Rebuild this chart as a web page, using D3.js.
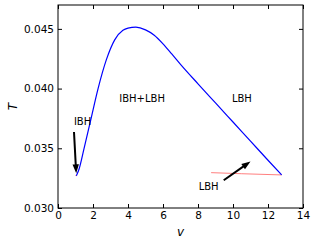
<!DOCTYPE html>
<html><head><meta charset="utf-8">
<script src="https://cdn.jsdelivr.net/npm/d3@7"></script>
<style>body{margin:0;background:#fff}svg{display:block}text{font-family:"DejaVu Sans",sans-serif}</style>
</head><body><svg id="c" width="316" height="247"></svg>
<script>
const blueV = [1.05, 1.2, 1.49, 1.87, 2.29, 2.76, 3.24, 3.71, 4.0, 4.45, 5.0, 5.5, 6.0, 6.5, 7.0, 8.0, 9.0, 10.0, 11.0, 12.0, 12.78];
const blueT = [0.03271, 0.03325, 0.0350, 0.03737, 0.0400, 0.0424, 0.04408, 0.04488, 0.04506, 0.04514, 0.04492, 0.04447, 0.04375, 0.04290, 0.04203, 0.04040, 0.03880, 0.03720, 0.03560, 0.03400, 0.03277];
const redV = [8.75, 10.5, 12.78];
const redT = [0.03296, 0.03287, 0.03277];
const redV2 = [1.0, 1.08];
const redT2 = [0.03272, 0.03271];
const xTicks = [0, 2, 4, 6, 8, 10, 12, 14];
const yTicks = [0.030, 0.035, 0.040, 0.045];
const labels = [
  {text: "IBH", v: 0.91, T: 0.03696},
  {text: "IBH+LBH", v: 3.5, T: 0.03888},
  {text: "LBH", v: 9.94, T: 0.03888},
  {text: "LBH", v: 8.04, T: 0.0315}
];
const arrows = [
  {v0: 0.914, T0: 0.03637, v1: 1.04, T1: 0.0329},
  {v0: 9.47, T0: 0.03232, v1: 11.0, T1: 0.0339}
];

const svg = d3.select("#c");
const L = 58, R = 303, Tp = 5, B = 208;
const x = d3.scaleLinear().domain([0, 14]).range([L, R]);
const y = d3.scaleLinear().domain([0.030, 0.047]).range([B, Tp]);

const line = d3.line().x(d => x(d[0])).y(d => y(d[1])).curve(d3.curveMonotoneX);
const straight = d3.line().x(d => x(d[0])).y(d => y(d[1]));
svg.append("path").datum(redV.map((v, i) => [v, redT[i]])).attr("d", straight)
  .attr("fill", "none").attr("stroke", "#ff7070").attr("stroke-width", 0.9);
svg.append("path").datum(redV2.map((v, i) => [v, redT2[i]])).attr("d", straight)
  .attr("fill", "none").attr("stroke", "#ff7070").attr("stroke-width", 0.9);
svg.append("path").datum(blueV.map((v, i) => [v, blueT[i]])).attr("d", line)
  .attr("fill", "none").attr("stroke", "#0000ff").attr("stroke-width", 1.2);

// axes with inward ticks
const gx = svg.append("g").attr("transform", `translate(0,${B})`)
  .call(d3.axisBottom(x).tickValues(xTicks).tickFormat(d3.format("d")).tickSizeInner(-4).tickSizeOuter(0).tickPadding(4));
const gxt = svg.append("g").attr("transform", `translate(0,${Tp})`)
  .call(d3.axisTop(x).tickValues(xTicks).tickFormat("").tickSizeInner(-4).tickSizeOuter(0));
const gy = svg.append("g").attr("transform", `translate(${L},0)`)
  .call(d3.axisLeft(y).tickValues(yTicks).tickFormat(d3.format(".3f")).tickSizeInner(-4).tickSizeOuter(0).tickPadding(4));
const gyr = svg.append("g").attr("transform", `translate(${R},0)`)
  .call(d3.axisRight(y).tickValues(yTicks).tickFormat("").tickSizeInner(-4).tickSizeOuter(0));
[gx, gxt, gy, gyr].forEach(g => { g.select(".domain").remove(); g.selectAll("text").attr("font-size", 10.5).attr("fill", "#000").attr("font-family", "DejaVu Sans"); g.selectAll("line").attr("stroke", "#000"); });
gx.selectAll("text").attr("dy", "0.71em");

svg.append("rect").attr("x", L).attr("y", Tp).attr("width", R - L).attr("height", B - Tp)
  .attr("fill", "none").attr("stroke", "#000").attr("stroke-width", 1);

// text labels
labels.forEach(l => svg.append("text").attr("x", x(l.v)).attr("y", y(l.T)).attr("font-size", 10).attr("fill", "#000").text(l.text));

// arrows
arrows.forEach(a => {
  const x0 = x(a.v0), y0 = y(a.T0), x1 = x(a.v1), y1 = y(a.T1);
  const dx = x1 - x0, dy = y1 - y0, len = Math.hypot(dx, dy);
  const ux = dx / len, uy = dy / len, px = -uy, py = ux;
  const hl = 9, hw = 3.2, sw = 1;
  const bx = x1 - ux * hl, by = y1 - uy * hl;
  const pts = [
    [x0 + px * sw, y0 + py * sw], [bx + px * sw, by + py * sw], [bx + px * hw, by + py * hw],
    [x1, y1], [bx - px * hw, by - py * hw], [bx - px * sw, by - py * sw], [x0 - px * sw, y0 - py * sw]
  ];
  svg.append("polygon").attr("points", pts.map(p => p.join(",")).join(" ")).attr("fill", "#000");
});

// axis labels
svg.append("text").attr("x", (L + R) / 2).attr("y", 236).attr("text-anchor", "middle")
  .attr("font-family", "DejaVu Serif").attr("font-style", "italic").attr("font-size", 12).text("v");
svg.append("text").attr("transform", `translate(17,${(Tp + B) / 2}) rotate(-90)`).attr("text-anchor", "middle")
  .attr("font-family", "DejaVu Serif").attr("font-style", "italic").attr("font-size", 12).text("T");
</script></body></html>
